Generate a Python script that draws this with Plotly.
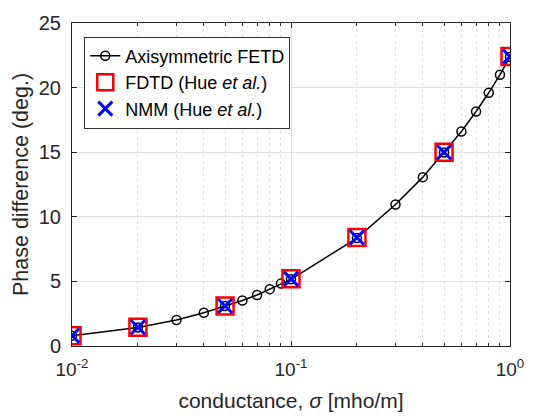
import plotly.graph_objects as go

fetd_sigma = [0.01, 0.02, 0.03, 0.04, 0.05, 0.06, 0.07, 0.08, 0.09, 0.1,
              0.2, 0.3, 0.4, 0.5, 0.6, 0.7, 0.8, 0.9, 1.0]
fetd_phase = [0.8, 1.43, 2.01, 2.57, 3.09, 3.52, 3.95, 4.4, 4.83, 5.16,
              8.35, 10.95, 13.07, 14.98, 16.6, 18.15, 19.6, 21.0, 22.37]
hue_sigma = [0.01, 0.02, 0.05, 0.1, 0.2, 0.5, 1.0]
fdtd_phase = [0.8, 1.45, 3.1, 5.2, 8.4, 15.0, 22.4]
nmm_phase = [0.8, 1.45, 3.1, 5.2, 8.4, 15.0, 22.4]

x_major_ticks = [0.01, 0.1, 1]
x_major_labels = ["10<sup>-2</sup>", "10<sup>-1</sup>", "10<sup>0</sup>"]
x_minor_ticks = [0.02, 0.03, 0.04, 0.05, 0.06, 0.07, 0.08, 0.09,
                 0.2, 0.3, 0.4, 0.5, 0.6, 0.7, 0.8, 0.9]
y_ticks = [0, 5, 10, 15, 20, 25]

fig = go.Figure()
fig.add_trace(go.Scatter(
    x=fetd_sigma, y=fetd_phase, mode="lines+markers", name="Axisymmetric FETD",
    line=dict(color="black", width=1.5),
    marker=dict(symbol="circle-open", size=9, color="black", line=dict(width=1.5)),
))
fig.add_trace(go.Scatter(
    x=hue_sigma, y=fdtd_phase, mode="markers", name="FDTD (Hue <i>et al.</i>)",
    marker=dict(symbol="square-open", size=17, color="red", line=dict(width=2.5)),
))
fig.add_trace(go.Scatter(
    x=hue_sigma, y=nmm_phase, mode="markers", name="NMM (Hue <i>et al.</i>)",
    marker=dict(symbol="x-thin-open", size=14, color="blue", line=dict(width=3, color="blue")),
))

font = "Liberation Sans, Arial, sans-serif"
fig.update_layout(
    width=536, height=420,
    margin=dict(l=72, r=17, t=15, b=73),
    paper_bgcolor="white", plot_bgcolor="white",
    font=dict(family=font, size=20, color="#262626"),
    showlegend=True,
    legend=dict(
        x=0.028, y=0.958, xanchor="left", yanchor="top",
        bgcolor="white", bordercolor="#333333", borderwidth=1,
        font=dict(size=18, color="black"), tracegroupgap=0, itemwidth=30,
    ),
    xaxis=dict(
        type="log", range=[-2, 0],
        tickvals=x_major_ticks, ticktext=x_major_labels,
        ticks="inside", ticklen=5, tickcolor="#262626",
        showline=True, linecolor="#262626", linewidth=1, mirror="ticks",
        showgrid=True, gridcolor="#e0e0e0", gridwidth=1,
        minor=dict(tickvals=x_minor_ticks, ticks="inside", ticklen=3, tickcolor="#262626",
                   showgrid=True, gridcolor="#e0e0e0", griddash="dot", gridwidth=1),
        title=dict(text="conductance, <i>σ</i> [mho/m]", font=dict(size=21), standoff=14),
        zeroline=False, tickfont=dict(size=19), ticklabelstandoff=6,
    ),
    yaxis=dict(
        range=[0, 25], tickvals=y_ticks,
        ticks="inside", ticklen=5, tickcolor="#262626",
        showline=True, linecolor="#262626", linewidth=1, mirror="ticks",
        showgrid=True, gridcolor="#e0e0e0", gridwidth=1,
        title=dict(text="Phase difference (deg.)", font=dict(size=21.5), standoff=4),
        zeroline=False, tickfont=dict(size=20), ticklabelstandoff=6,
    ),
)

fig.write_html("out.html")
